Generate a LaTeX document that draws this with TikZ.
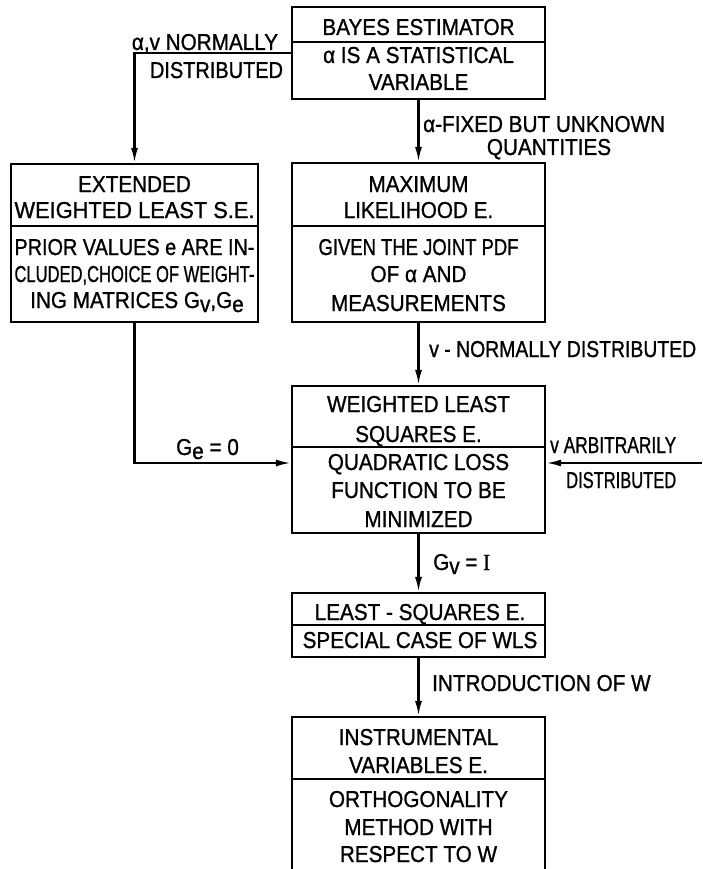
\documentclass[tikz,border=0pt]{standalone}
\usepackage{fontspec}
\usepackage{graphicx}
\setmainfont{Liberation Sans}[FakeStretch=0.9,FakeBold=1]
\newfontfamily\serI{Liberation Serif}[FakeStretch=0.9,FakeBold=1]
\usetikzlibrary{arrows.meta}
\newcommand\fitw[2]{\resizebox{#1pt}{\height}{#2}}
\newcommand\sbs[1]{\raisebox{-4pt}{#1}}
\begin{document}
\begin{tikzpicture}[x=1pt,y=-1pt,
  font=\fontsize{23}{27}\selectfont,
  box/.style={draw, line width=2.2pt, inner sep=0pt},
  divl/.style={line width=2.2pt},
  conn/.style={line width=2.2pt, -{Latex[length=15pt,width=7pt]}},
  t/.style={anchor=base, inner sep=0pt}]
\path[use as bounding box, fill=white] (0,0) rectangle (702,869);

% boxes
\node[box, minimum width=253pt, minimum height=92pt]  (bayes) at (418.5,53) {};
\node[box, minimum width=247pt, minimum height=158pt] (ext)   at (134.5,243) {};
\node[box, minimum width=253pt, minimum height=159pt] (ml)    at (418.5,242.5) {};
\node[box, minimum width=253pt, minimum height=147pt] (wls)   at (418.5,459.5) {};
\node[box, minimum width=253pt, minimum height=64pt]  (ls)    at (418.5,625) {};
\node[box, minimum width=253pt, minimum height=183pt] (iv)    at (418.5,808.5) {};

% dividers
\draw[divl] (292,42) -- (545,42);
\draw[divl] (11,226) -- (258,226);
\draw[divl] (292,226) -- (545,226);
\draw[divl] (292,447) -- (545,447);
\draw[divl] (292,625) -- (545,625);
\draw[divl] (292,779) -- (545,779);

% box texts
\node[t] (b1) at (418.5,35) {BAYES ESTIMATOR};
\node[t] (b2) at (418.5,63) {α IS A STATISTICAL};
\node[t] (b3) at (418.5,90) {VARIABLE};

\node[t] (e1) at (134.5,192) {EXTENDED};
\node[t] (e2) at (134.5,218) {\fitw{240}{WEIGHTED LEAST S.E.}};
\node[t] (e3) at (134.5,255) {\fitw{240}{PRIOR VALUES e ARE IN-}};
\node[t] (e4) at (134.5,282) {\fitw{240}{CLUDED,CHOICE OF WEIGHT-}};
\node[t] (e5) at (137,308) {ING MATRICES G\sbs{v},G\sbs{e}};

\node[t] (m1) at (418.5,192) {MAXIMUM};
\node[t] (m2) at (418.5,218) {LIKELIHOOD E.};
\node[t] (m3) at (418.5,255) {\fitw{200}{GIVEN THE JOINT PDF}};
\node[t] (m4) at (418.5,282) {OF α AND};
\node[t] (m5) at (418.5,311) {MEASUREMENTS};

\node[t] (w1) at (418.5,412) {WEIGHTED LEAST};
\node[t] (w2) at (418.5,442) {SQUARES E.};
\node[t] (w3) at (418.5,470) {QUADRATIC LOSS};
\node[t] (w4) at (418.5,498) {FUNCTION TO BE};
\node[t] (w5) at (418.5,527) {MINIMIZED};

\node[t] (l1) at (420,620) {LEAST - SQUARES E.};
\node[t] (l2) at (420,648) {SPECIAL CASE OF WLS};

\node[t] (i1) at (418.5,745) {INSTRUMENTAL};
\node[t] (i2) at (418.5,773) {VARIABLES E.};
\node[t] (i3) at (418.5,807) {ORTHOGONALITY};
\node[t] (i4) at (418.5,835) {METHOD WITH};
\node[t] (i5) at (418.5,862) {RESPECT TO W};

% connectors
\coordinate (rin) at (702,463);
\draw[conn] (bayes.west) -| (ext.north);
\draw[conn] (bayes.south) -- (ml.north);
\draw[conn] (ml.south) -- (wls.north);
\draw[conn] (ext.south) |- ([yshift=-3.5pt]wls.west);
\draw[conn] (rin) -- ([yshift=-3.5pt]wls.east);
\draw[conn] (wls.south) -- (ls.north);
\draw[conn] (ls.south) -- (iv.north);

% connector labels
\node[t] (c1) at (205,50) {α,v NORMALLY};
\node[t] (c2) at (216.5,78) {\fitw{133}{DISTRIBUTED}};
\node[t, anchor=base west] (c3) at (423,132) {α-FIXED BUT UNKNOWN};
\node[t] (c4) at (549,155) {QUANTITIES};
\node[t, anchor=base west] (c5) at (429,357) {\fitw{267}{v - NORMALLY DISTRIBUTED}};
\node[t] (c6) at (207.5,455) {G\sbs{e} = 0};
\node[t, anchor=base west] (c7) at (550,453) {\fitw{126}{v ARBITRARILY}};
\node[t, anchor=base west] (c8) at (566,488) {\fitw{110}{DISTRIBUTED}};
\node[t, anchor=base west] (c9) at (433,570) {G\sbs{v} = {\serI I}};
\node[t, anchor=base west] (c10) at (432,691) {INTRODUCTION OF W};
\end{tikzpicture}
\end{document}
